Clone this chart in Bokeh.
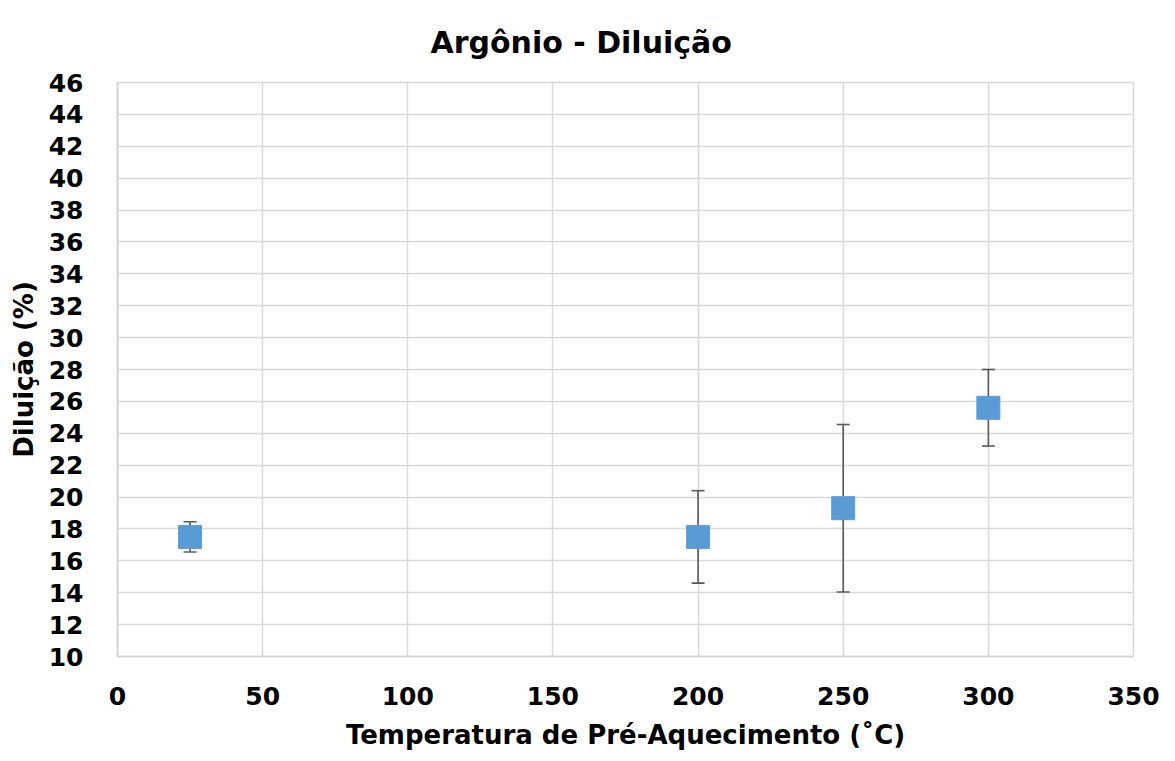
from bokeh.plotting import figure
from bokeh.models import ColumnDataSource, FixedTicker, Range1d
from bokeh.embed import file_html
from bokeh.resources import INLINE

temps = [25, 200, 250, 300]
dilution = [17.5, 17.5, 19.3, 25.6]
err = [0.95, 2.9, 5.25, 2.4]

upper = [d + e for d, e in zip(dilution, err)]
lower = [d - e for d, e in zip(dilution, err)]
src = ColumnDataSource(dict(x=temps, y=dilution, up=upper, lo=lower))

FONT = "DejaVu Sans"
p = figure(width=1175, height=761, output_backend="svg", toolbar_location=None,
           x_range=Range1d(0, 350), y_range=Range1d(10, 46),
           min_border_left=117, min_border_right=42, min_border_top=82, min_border_bottom=105)
p.title.text = "Argônio - Diluição"
p.title.text_font = FONT
p.title.text_font_size = "30px"
p.title.text_font_style = "bold"
p.title.align = "left"
p.title.offset = 313
p.title.vertical_align = "top"
p.title.standoff = 42
p.title.text_color = "#000000"

p.segment(x0="x", y0="lo", x1="x", y1="up", source=src, line_color="#595959", line_width=1.6)
p.dash(x="x", y="up", source=src, size=13, line_color="#595959", line_width=1.6)
p.dash(x="x", y="lo", source=src, size=13, line_color="#595959", line_width=1.6)
p.scatter(x="x", y="y", source=src, marker="square", size=23, fill_color="#5B9BD5",
          line_color="#5B9BD5")

p.xaxis.ticker = FixedTicker(ticks=list(range(0, 351, 50)))
p.yaxis.ticker = FixedTicker(ticks=list(range(10, 47, 2)))
for ax in (p.xaxis[0], p.yaxis[0]):
    ax.major_label_text_font = FONT
    ax.major_label_text_font_size = "25px"
    ax.major_label_text_font_style = "bold"
    ax.major_label_text_color = "#000000"
    ax.axis_label_text_font = FONT
    ax.axis_label_text_font_size = "26px"
    ax.axis_label_text_font_style = "bold"
    ax.axis_label_text_color = "#000000"
    ax.major_tick_line_color = None
    ax.minor_tick_line_color = None
    ax.axis_line_color = "#d0d0d0"
    ax.axis_line_width = 1.5
p.xaxis.axis_label = "Temperatura de Pré-Aquecimento (˚C)"
p.yaxis.axis_label = "Diluição (%)"
p.xaxis.major_label_standoff = 24
p.xaxis.axis_label_standoff = 12
p.yaxis.major_label_standoff = 28
p.yaxis.axis_label_standoff = 7

p.grid.grid_line_color = "#d9d9d9"
p.grid.grid_line_width = 1.5
p.outline_line_color = "#d9d9d9"
p.outline_line_width = 1.5
p.background_fill_color = "white"
p.border_fill_color = "white"

open("out.html", "w").write(file_html(p, INLINE))
